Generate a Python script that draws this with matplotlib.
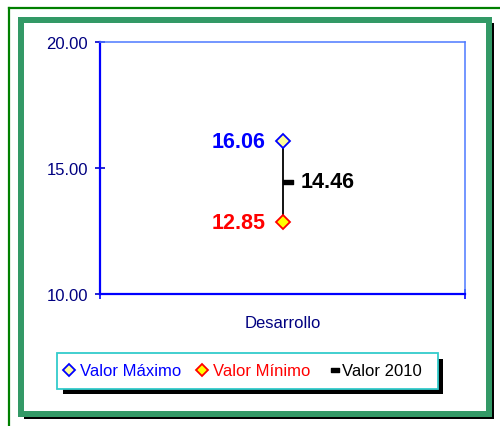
import matplotlib
matplotlib.use("Agg")
import matplotlib.pyplot as plt
from matplotlib.patches import Rectangle
from matplotlib.lines import Line2D
from matplotlib.path import Path

categories = ["Desarrollo"]
valor_maximo = [16.06]
valor_minimo = [12.85]
valor_2010 = [14.46]
y_ticks = [10, 15, 20]

plt.rcParams["font.family"] = ["Liberation Sans", "DejaVu Sans"]

W, H = 500, 427
fig = plt.figure(figsize=(W / 100, H / 100), dpi=100)
fig.patch.set_facecolor("white")


def px_rect(x0, y0, x1, y1, **kw):
    # rectangle in pixel coords measured from the top-left
    return Rectangle((x0 / W, 1 - y1 / H), (x1 - x0) / W, (y1 - y0) / H,
                     transform=fig.transFigure, zorder=-5, **kw)


# outer thin green border (cut off right/bottom)
fig.add_artist(Line2D([8.5 / W, 8.5 / W], [1 - 8.5 / H, 0], transform=fig.transFigure,
                      color="#008000", lw=1.6, zorder=-5))
fig.add_artist(Line2D([8.5 / W, 1], [1 - 8.5 / H, 1 - 8.5 / H], transform=fig.transFigure,
                      color="#008000", lw=1.6, zorder=-5))

# inner thick frame with shadow
fig.add_artist(px_rect(24, 24, 494, 420, facecolor="black", edgecolor="none"))
fig.add_artist(px_rect(18, 18, 492, 418, facecolor="#339966", edgecolor="none"))
fig.add_artist(px_rect(24, 24, 486, 412, facecolor="white", edgecolor="none"))

# legend box with shadow
fig.add_artist(px_rect(63, 360, 443, 395, facecolor="black", edgecolor="none"))
fig.add_artist(px_rect(57, 354, 438, 390, facecolor="white", edgecolor="#33CCCC", lw=1.3))

ax = fig.add_axes([100 / W, 1 - 295 / H, 365 / W, 252 / H])
ax.set_facecolor("none")
x = list(range(len(categories)))

ax.vlines(x, valor_minimo, valor_maximo, color="black", lw=1.3, zorder=2)

dash = Path([(0, -0.25), (1, -0.25), (1, 0.25), (0, 0.25), (0, -0.25)],
            [Path.MOVETO, Path.LINETO, Path.LINETO, Path.LINETO, Path.CLOSEPOLY])
ax.plot(x, valor_2010, linestyle="none", marker=dash, markersize=14,
        color="black", zorder=3)
ax.plot(x, valor_maximo, linestyle="none", marker="D", markersize=7,
        markerfacecolor="#FFFF99", markeredgecolor="#0000FF", markeredgewidth=1.3, zorder=4)
ax.plot(x, valor_minimo, linestyle="none", marker="D", markersize=7,
        markerfacecolor="#FFFF00", markeredgecolor="#FF0000", markeredgewidth=1.3, zorder=4)

for xi, v in zip(x, valor_maximo):
    ax.annotate(f"{v:.2f}", (xi, v), xytext=(-12, 0), textcoords="offset points",
                ha="right", va="center", color="#0000FF", fontsize=15.5, fontweight="bold")
for xi, v in zip(x, valor_minimo):
    ax.annotate(f"{v:.2f}", (xi, v), xytext=(-12, 0), textcoords="offset points",
                ha="right", va="center", color="#FF0000", fontsize=15.5, fontweight="bold")
for xi, v in zip(x, valor_2010):
    ax.annotate(f"{v:.2f}", (xi, v), xytext=(13, 0), textcoords="offset points",
                ha="left", va="center", color="black", fontsize=15.5, fontweight="bold")

ax.set_xlim(-0.5, len(categories) - 0.5)
ax.set_ylim(y_ticks[0], y_ticks[-1])
ax.set_yticks(y_ticks)
ax.set_yticklabels([f"{t:.2f}" for t in y_ticks])
ax.tick_params(axis="y", direction="inout", length=7, width=1.2, color="#0000CC",
               labelcolor="#000080", labelsize=12, pad=5)

ax.set_xticks(x)
ax.set_xticklabels(categories)
ax.tick_params(axis="x", which="major", length=0, labelcolor="#000080", labelsize=12, pad=15)
ax.set_xticks([-0.5, len(categories) - 0.5], minor=True)
ax.tick_params(axis="x", which="minor", direction="inout", length=7, width=1.2, color="#0000FF")

for side in ["left", "bottom"]:
    ax.spines[side].set_color("#0000FF")
    ax.spines[side].set_linewidth(1.6)
for side in ["top", "right"]:
    ax.spines[side].set_color("#4D79FF")
    ax.spines[side].set_linewidth(1.1)

handles = [
    Line2D([], [], linestyle="none", marker="D", markersize=6.5, markerfacecolor="#FFFF99",
           markeredgecolor="#0000FF", markeredgewidth=1.3),
    Line2D([], [], linestyle="none", marker="D", markersize=6.5, markerfacecolor="#FFFF00",
           markeredgecolor="#FF0000", markeredgewidth=1.3),
    Line2D([], [], linestyle="none", marker=dash, markersize=11, color="black"),
]
leg = fig.legend(handles, ["Valor Máximo", "Valor Mínimo", "Valor 2010"],
                 loc="center", bbox_to_anchor=(242 / W, 1 - 372 / H), ncol=3,
                 frameon=False, fontsize=12, handlelength=0.8, handletextpad=0.3,
                 columnspacing=0.8, borderaxespad=0)
for t, c in zip(leg.get_texts(), ["#0000FF", "#FF0000", "black"]):
    t.set_color(c)

fig.savefig("out.png", dpi=100)
